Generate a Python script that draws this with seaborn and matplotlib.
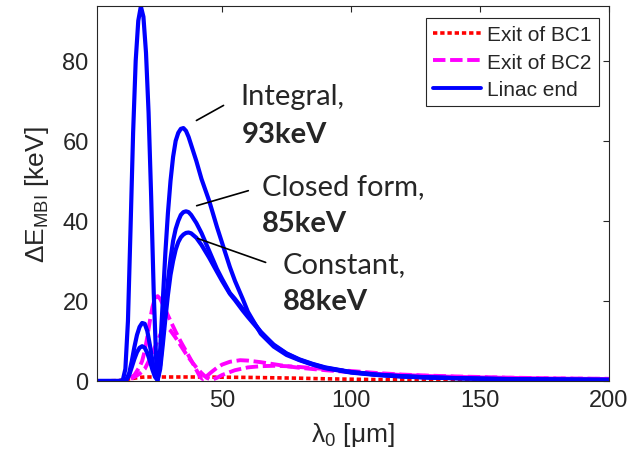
import numpy as np
import pandas as pd
import matplotlib
matplotlib.use("Agg")
import matplotlib.pyplot as plt
import seaborn as sns
from matplotlib.lines import Line2D

# ---------------- data ----------------
lam_int = [1.5, 10, 11.5, 12.5, 13.5, 14.5, 15.5, 16.5, 17.5, 18.5, 19.5, 20.5, 21.5, 22.5,
           23.5, 24.5, 25, 26, 27, 28, 29, 30, 31, 32, 33, 34, 35, 36, 37, 38, 40, 42, 45,
           48, 50, 53, 55, 58, 60, 65, 70, 75, 80, 85, 90, 100, 110, 120, 130, 140, 150,
           160, 170, 180, 190, 200]
val_int = [0, 0, 0.2, 3, 15, 38, 62, 80, 90, 93.6, 91, 82, 67, 46,
           22, 4, 0.5, 8, 20, 32, 42, 50, 56, 60, 62, 63, 63.2, 62.5, 61, 59, 55, 50.5, 45,
           38.5, 34.5, 28.5, 25, 20.5, 17.3, 11.8, 8.6, 6.5, 5.2, 4.1, 3.2, 2.1, 1.5, 1.1,
           0.85, 0.7, 0.55, 0.45, 0.4, 0.35, 0.3, 0.27]

lam_cf = [1.5, 12, 13, 14, 15, 16, 17, 18, 19, 20, 21, 22, 23, 24, 25, 26, 27, 28, 29, 30,
          31, 32, 33, 34, 35, 36, 37, 38, 40, 42, 45, 48, 50, 53, 55, 58, 60, 65, 70, 75,
          80, 85, 90, 100, 110, 120, 130, 140, 150, 160, 170, 180, 190, 200]
val_cf = [0, 0, 0.5, 2, 5, 8.5, 11.5, 13.5, 14.5, 14.3, 12.5, 9, 5, 1.5, 0.3, 4, 11, 18, 25,
          30.5, 35, 38, 40, 41.5, 42.2, 42.4, 42.2, 41.5, 39.5, 37, 32.5, 28, 25.5, 22, 20.5,
          18, 16.5, 12.3, 8.9, 6.8, 5.3, 4.2, 3.3, 2.2, 1.55, 1.15, 0.9, 0.72, 0.58, 0.48,
          0.42, 0.36, 0.32, 0.28]

lam_ct = [1.5, 12, 13, 14, 15, 16, 17, 18, 19, 20, 21, 22, 23, 24, 25, 26, 27, 28, 29, 30,
          31, 32, 33, 34, 35, 36, 37, 38, 40, 42, 45, 48, 50, 53, 55, 58, 60, 65, 70, 75,
          80, 85, 90, 100, 110, 120, 130, 140, 150, 160, 170, 180, 190, 200]
val_ct = [0, 0, 0.3, 1.5, 3.5, 5.5, 7.2, 8.3, 8.7, 8.3, 7, 5, 2.8, 1, 0.2, 3, 9, 15.5, 21.5,
          26.5, 30, 32.8, 34.7, 35.9, 36.6, 37, 37.1, 36.9, 35.8, 34, 30.8, 27.3, 25, 21.8,
          20.2, 17.6, 16, 12.2, 9.1, 6.9, 5.4, 4.3, 3.4, 2.25, 1.6, 1.2, 0.92, 0.74, 0.6,
          0.5, 0.43, 0.37, 0.33, 0.29]

lam_m1 = [1.5, 12, 14, 16, 17, 18, 19, 20, 21, 22, 23, 24, 25, 26, 27, 28, 30, 32, 34, 36,
          38, 40, 41.5, 42.5, 44, 46, 48, 50, 53, 57, 60, 65, 70, 75, 80, 90, 100, 110, 120,
          130, 140, 150, 160, 170, 180, 190, 200]
val_m1 = [0, 0, 0.5, 1.5, 2.5, 3.5, 5, 7.5, 11, 15, 18.5, 20.7, 21.2, 20.5, 19.2, 17.8, 15,
          12.3, 9.8, 7.5, 5.2, 2.8, 1.0, 0.5, 1.2, 2.3, 3.3, 4.1, 4.8, 5.2, 5.1, 4.7, 4.2,
          3.7, 3.3, 2.7, 2.2, 1.8, 1.5, 1.25, 1.05, 0.9, 0.8, 0.7, 0.6, 0.55, 0.5]

lam_m2 = [1.5, 12, 14, 16, 18, 20, 22, 24, 26, 27, 28, 29, 30, 32, 34, 36, 38, 40, 42, 44,
          46, 48, 50, 55, 60, 65, 70, 75, 80, 90, 100, 110, 120, 130, 140, 150, 160, 170,
          180, 190, 200]
val_m2 = [0, 0, 0.3, 1, 1.8, 3, 5.5, 8.5, 11.5, 12.8, 13.3, 13.2, 12.6, 10.8, 8.8, 6.8, 5,
          3.4, 2, 0.8, 0.3, 0.8, 1.5, 2.7, 3.4, 3.7, 3.8, 3.7, 3.5, 3.0, 2.5, 2.0, 1.6, 1.35,
          1.15, 1.0, 0.85, 0.75, 0.65, 0.6, 0.55]

lam_r = [1.5, 10, 14, 18, 20, 30, 40, 50, 60, 70, 80, 90, 100, 110, 120, 140, 160, 180, 200]
val_r = [0, 0.1, 0.5, 0.9, 1.0, 1.0, 1.0, 0.95, 0.9, 0.8, 0.7, 0.55, 0.45, 0.35, 0.3, 0.22,
         0.17, 0.13, 0.1]

legend_labels = ["Exit of BC1", "Exit of BC2", "Linac end"]
xticks = [50, 100, 150, 200]
yticks = [0, 20, 40, 60, 80]

# ---------------- style ----------------
sns.set_style("white")
plt.rcParams["font.family"] = ["Liberation Sans", "DejaVu Sans"]
plt.rcParams["mathtext.fontset"] = "custom"
plt.rcParams["mathtext.rm"] = "Liberation Sans"
plt.rcParams["mathtext.it"] = "Liberation Sans:italic"

RED = "#ff0000"
MAG = "#ff00ff"
BLUE = "#0000ff"
DARK = "#262626"

fig = plt.figure(figsize=(6.34, 4.64), dpi=100)
ax = fig.add_axes([97 / 634, 1 - 382 / 464, 512 / 634, 375 / 464])

def draw(lam, val, color, dashes, lw):
    df = pd.DataFrame({"lam": lam, "val": val})
    sns.lineplot(data=df, x="lam", y="val", ax=ax, color=color, lw=lw,
                 estimator=None, sort=False, legend=False,
                 dashes=False)
    ln = ax.lines[-1]
    if dashes is not None:
        ln.set_dashes(dashes)
    ln.set_solid_capstyle("butt")
    ln.set_dash_capstyle("butt")

draw(lam_r, val_r, RED, (1.2, 0.8), 2.6)
draw(lam_m2, val_m2, MAG, (3.2, 1.2), 2.8)
draw(lam_m1, val_m1, MAG, (3.2, 1.2), 2.8)
draw(lam_ct, val_ct, BLUE, None, 3.0)
draw(lam_cf, val_cf, BLUE, None, 3.0)
draw(lam_int, val_int, BLUE, None, 3.0)

ax.set_xlim(1.5, 200)
ax.set_ylim(0, 93.7)
ax.set_xticks(xticks)
ax.set_yticks(yticks)
ax.tick_params(direction="in", length=4, width=0.8, colors=DARK, labelsize=17,
               top=True, right=True, labelcolor=DARK, pad=6)
for s in ax.spines.values():
    s.set_visible(True)
    s.set_color(DARK)
    s.set_linewidth(0.8)

ax.set_xlabel("λ$_0$ [μm]", fontsize=19, color=DARK, labelpad=6)
ax.set_ylabel("ΔE$_{\\mathrm{MBI}}$ [keV]", fontsize=19, color=DARK, labelpad=8)

handles = [Line2D([], [], color=RED, lw=2.6, dashes=(1.2, 0.8)),
           Line2D([], [], color=MAG, lw=2.8, dashes=(3.2, 1.2)),
           Line2D([], [], color=BLUE, lw=2.8)]
leg = ax.legend(handles, legend_labels, loc="upper right",
                bbox_to_anchor=(0.980, 0.968), fontsize=15, frameon=True,
                fancybox=False, framealpha=1, edgecolor=DARK, handlelength=2.3,
                handletextpad=0.3, borderpad=0.35, labelspacing=0.4,
                borderaxespad=0)
leg.get_frame().set_linewidth(0.8)

# annotations
afont = ["Lato", "DejaVu Sans"]
ax.annotate("", xy=(39.1, 64.75), xytext=(51.5, 69.2),
            arrowprops=dict(arrowstyle="-", color="black", lw=1.2))
ax.annotate("", xy=(39.1, 43.6), xytext=(61.2, 47.75),
            arrowprops=dict(arrowstyle="-", color="black", lw=1.2))
ax.annotate("", xy=(39.5, 35.85), xytext=(67.9, 29.4),
            arrowprops=dict(arrowstyle="-", color="black", lw=1.2))

fs = 21
ax.text(56.9, 71.2, "Integral,", fontsize=fs, family=afont, va="center", ha="left")
ax.text(57.7, 61.7, "93keV", fontsize=fs, family=afont, weight="bold", va="center", ha="left")
ax.text(65.5, 48.7, "Closed form,", fontsize=fs, family=afont, va="center", ha="left")
ax.text(65.5, 39.4, "85keV", fontsize=fs, family=afont, weight="bold", va="center", ha="left")
ax.text(73.6, 29.2, "Constant,", fontsize=fs, family=afont, va="center", ha="left")
ax.text(73.6, 19.9, "88keV", fontsize=fs, family=afont, weight="bold", va="center", ha="left")

fig.savefig("out.png", dpi=100)
